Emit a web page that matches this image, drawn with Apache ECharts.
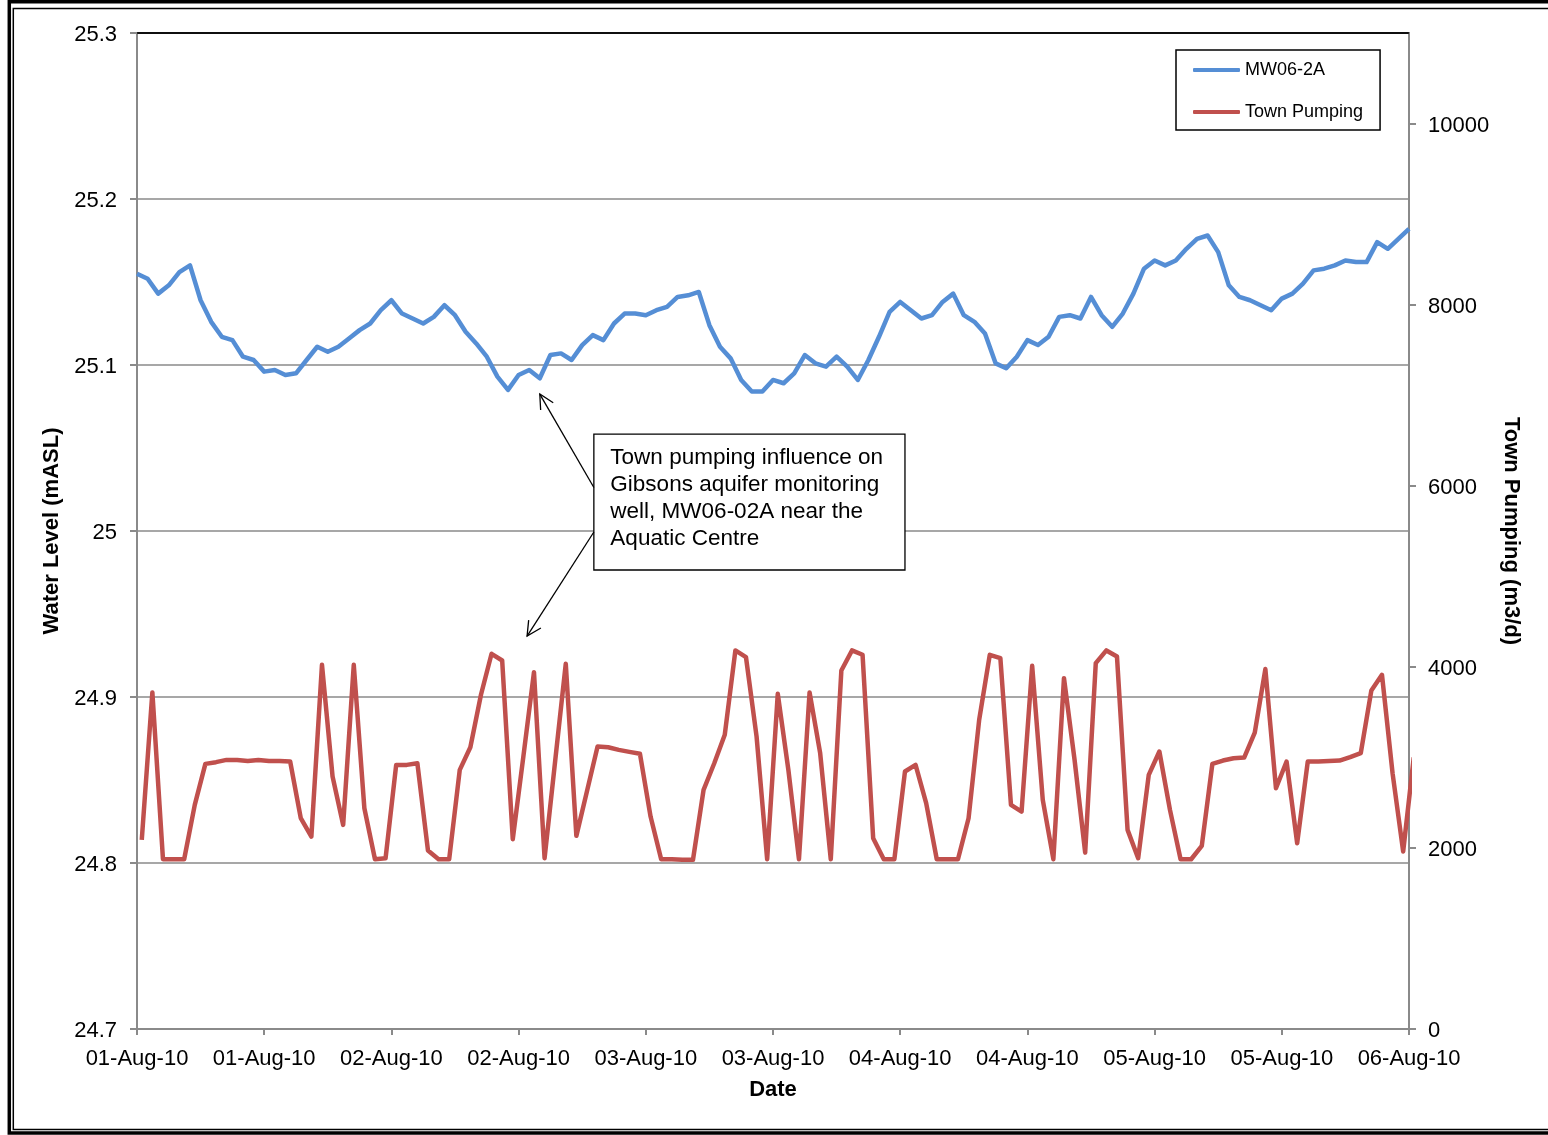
<!DOCTYPE html>
<html><head><meta charset="utf-8">
<script src="https://cdn.jsdelivr.net/npm/echarts@6/dist/echarts.min.js"></script>
<style>html,body{margin:0;padding:0;background:#fff}#c{width:1548px;height:1135px}</style>
</head><body><div id="c"></div>
<script>
// ---- data ----
const xTickLabels = ['01-Aug-10','01-Aug-10','02-Aug-10','02-Aug-10','03-Aug-10','03-Aug-10','04-Aug-10','04-Aug-10','05-Aug-10','05-Aug-10','06-Aug-10'];
const leftTickLabels = ['24.7','24.8','24.9','25','25.1','25.2','25.3'];
const rightTickLabels = ['0','2000','4000','6000','8000','10000'];
const seriesNames = ['MW06-2A','Town Pumping'];
// hourly readings starting 01-Aug-10 00:00 (hours since start)
const levelStartHour = 0;
const pumpStartHour = 0.45;
const levelMW06 = [
25.155,25.152,25.143,25.148,25.156,25.160,25.139,25.126,25.117,25.115,
25.105,25.103,25.096,25.097,25.094,25.095,25.103,25.111,25.108,25.111,
25.116,25.121,25.125,25.133,25.139,25.131,25.128,25.125,25.129,25.136,
25.130,25.120,25.113,25.105,25.093,25.085,25.094,25.097,25.092,25.106,
25.107,25.103,25.112,25.118,25.115,25.125,25.131,25.131,25.130,25.133,
25.135,25.141,25.142,25.144,25.124,25.111,25.104,25.091,25.084,25.084,
25.091,25.089,25.095,25.106,25.101,25.099,25.105,25.099,25.091,25.103,
25.117,25.132,25.138,25.133,25.128,25.130,25.138,25.143,25.130,25.126,
25.119,25.101,25.098,25.105,25.115,25.112,25.117,25.129,25.130,25.128,
25.141,25.130,25.123,25.131,25.143,25.158,25.163,25.160,25.163,25.170,
25.176,25.178,25.168,25.148,25.141,25.139,25.136,25.133,25.140,25.143,
25.149,25.157,25.158,25.160,25.163,25.162,25.162,25.174,25.170,25.176,
25.182];
const townPumping = [
2088,3717,1875,1875,1875,2475,2928,2947,2972,2972,
2961,2972,2961,2961,2954,2328,2125,4022,2788,2254,
4022,2438,1875,1886,2917,2917,2936,1971,1875,1875,
2862,3112,3691,4144,4070,2096,3009,3941,1886,2961,
4033,2133,2626,3120,3112,3083,3061,3039,2346,1875,
1875,1868,1868,2641,2932,3249,4181,4107,3230,1875,
3702,2862,1875,3717,3046,1875,3960,4181,4133,2107,
1875,1875,2844,2917,2494,1875,1875,1875,2328,3414,
4133,4096,2475,2401,4011,2530,1875,3875,2972,1948,
4041,4181,4114,2199,1886,2807,3065,2420,1875,1875,
2022,2928,2965,2991,2998,3274,3975,2659,2954,2052,
2954,2954,2961,2965,3002,3046,3739,3912,2825,1960,
3000];
const annotationLines = ['Town pumping influence on','Gibsons aquifer monitoring','well, MW06-02A near the','Aquatic Centre'];
// annotation anchors in (hour, level) coordinates
const annoBox = [[43.1, 25.0584],[72.45, 24.9765]];
const annoArrows = [ {from:[43.1, 25.0262], to:[38.0, 25.0825]}, {from:[43.1, 24.9994], to:[36.8, 24.9367]} ];

const FONT = 'Liberation Sans, Arial, sans-serif';
const chart = echarts.init(document.getElementById('c'), null, {renderer:'canvas'});
const gray = '#8a8a8a';
const richLbl = {v:{fontSize:22, color:'#000', fontFamily:FONT, padding:[4,0,0,0]}};
chart.setOption({
  backgroundColor:'#fff',
  animation:false,
  textStyle:{fontFamily:FONT},
  grid:{left:137, right:139, top:33, bottom:106, show:true, borderColor:'#000', borderWidth:1.5, backgroundColor:'transparent'},
  legend:{
    orient:'vertical', left:1176, top:50,
    backgroundColor:'#fff', borderColor:'#000', borderWidth:1.5, borderRadius:0,
    padding:[10,17,8,17], itemGap:22, itemWidth:47, itemHeight:4, icon:'roundRect',
    textStyle:{fontSize:18, color:'#000', fontFamily:FONT, lineHeight:20},
    data:seriesNames
  },
  xAxis:{
    type:'value', min:0, max:120, interval:12,
    name:'Date', nameLocation:'middle', nameGap:50,
    nameTextStyle:{fontSize:22, fontWeight:'bold', color:'#000', fontFamily:FONT},
    axisLine:{lineStyle:{color:gray, width:2}},
    axisTick:{show:true, inside:false, length:6, lineStyle:{color:gray, width:2}},
    axisLabel:{fontSize:22, color:'#000', margin:19, fontFamily:FONT,
      formatter:v=>xTickLabels[Math.round(v/12)] || ''},
    splitLine:{show:false}
  },
  yAxis:[{
    type:'value', min:24.7, max:25.3, interval:0.1, position:'left',
    name:'Water Level (mASL)', nameLocation:'middle', nameGap:67,
    nameTextStyle:{fontSize:22, fontWeight:'bold', color:'#000', fontFamily:FONT},
    axisLine:{show:true, lineStyle:{color:gray, width:2}},
    axisTick:{show:true, length:7, lineStyle:{color:gray, width:2}},
    axisLabel:{fontSize:22, color:'#000', margin:20, fontFamily:FONT, rich:richLbl,
      formatter:v=>{const s = leftTickLabels[Math.round((v-24.7)/0.1)]; return s ? '{v|'+s+'}' : '';}},
    splitLine:{show:true, showMinLine:false, showMaxLine:false, lineStyle:{color:gray, width:1.5}}
  },{
    type:'value', min:0, max:11000, interval:2000, position:'right',
    name:'Town Pumping (m3/d)', nameLocation:'middle', nameGap:88, nameRotate:-90,
    nameTextStyle:{fontSize:22, fontWeight:'bold', color:'#000', fontFamily:FONT},
    axisLine:{show:true, lineStyle:{color:gray, width:2}},
    axisTick:{show:true, length:7, lineStyle:{color:gray, width:2}},
    axisLabel:{fontSize:22, color:'#000', margin:19, fontFamily:FONT, showMaxLabel:false, rich:richLbl,
      formatter:v=>{const s = v<=10000 ? rightTickLabels[Math.round(v/2000)] : ''; return s ? '{v|'+s+'}' : '';}},
    splitLine:{show:false}
  }],
  series:[{
    name:seriesNames[0], type:'line', yAxisIndex:0, showSymbol:false, symbol:'none',
    lineStyle:{color:'#558ED5', width:4.5, join:'round'}, itemStyle:{color:'#558ED5'},
    data:levelMW06.map((v,i)=>[levelStartHour+i, v]), z:3
  },{
    name:seriesNames[1], type:'line', yAxisIndex:1, showSymbol:false, symbol:'none', clip:true,
    lineStyle:{color:'#C0504D', width:4.5, join:'round'}, itemStyle:{color:'#C0504D'},
    data:townPumping.map((v,i)=>[pumpStartHour+i, v]), z:3
  }]
});

function px(p){ return chart.convertToPixel({xAxisIndex:0, yAxisIndex:0}, p); }
const g = [];
// outer double frame
g.push({type:'rect', shape:{x:9.3, y:1.7, width:2000, height:1131.3}, style:{fill:'none', stroke:'#000', lineWidth:3.5}, silent:true});
g.push({type:'rect', shape:{x:13.3, y:8.5, width:2000, height:1121}, style:{fill:'none', stroke:'#000', lineWidth:1.5}, silent:true});
// top plot border (black)
const tl = px([0, 25.3]), tr = px([120, 25.3]);
g.push({type:'line', shape:{x1:tl[0], y1:tl[1], x2:tr[0], y2:tr[1]}, style:{stroke:'#000', lineWidth:1.5}, z:5});
// annotation box
const b0 = px(annoBox[0]), b1 = px(annoBox[1]);
g.push({type:'rect', shape:{x:b0[0], y:b0[1], width:b1[0]-b0[0], height:b1[1]-b0[1]}, style:{fill:'#fff', stroke:'#000', lineWidth:1.3}, z:10});
g.push({type:'text', x:b0[0]+16.5, y:b0[1]+10, z:11, style:{text:annotationLines.join('\n'), font:'22.5px '+FONT, fill:'#000', lineHeight:27}});
annoArrows.forEach(a=>{
  const s = px(a.from), t = px(a.to);
  const dx = s[0]-t[0], dy = s[1]-t[1], L = Math.hypot(dx,dy);
  const ux = dx/L, uy = dy/L, hl = 16, ang = 27*Math.PI/180;
  const r = (x,y,th)=>[x*Math.cos(th)-y*Math.sin(th), x*Math.sin(th)+y*Math.cos(th)];
  const p1 = r(ux,uy,ang), p2 = r(ux,uy,-ang);
  g.push({type:'line', shape:{x1:s[0], y1:s[1], x2:t[0], y2:t[1]}, style:{stroke:'#000', lineWidth:1.3}, z:10});
  g.push({type:'polyline', shape:{points:[[t[0]+p1[0]*hl, t[1]+p1[1]*hl],[t[0],t[1]],[t[0]+p2[0]*hl, t[1]+p2[1]*hl]]}, style:{stroke:'#000', lineWidth:1.3, fill:'none'}, z:10});
});
chart.setOption({graphic:g});
</script></body></html>
